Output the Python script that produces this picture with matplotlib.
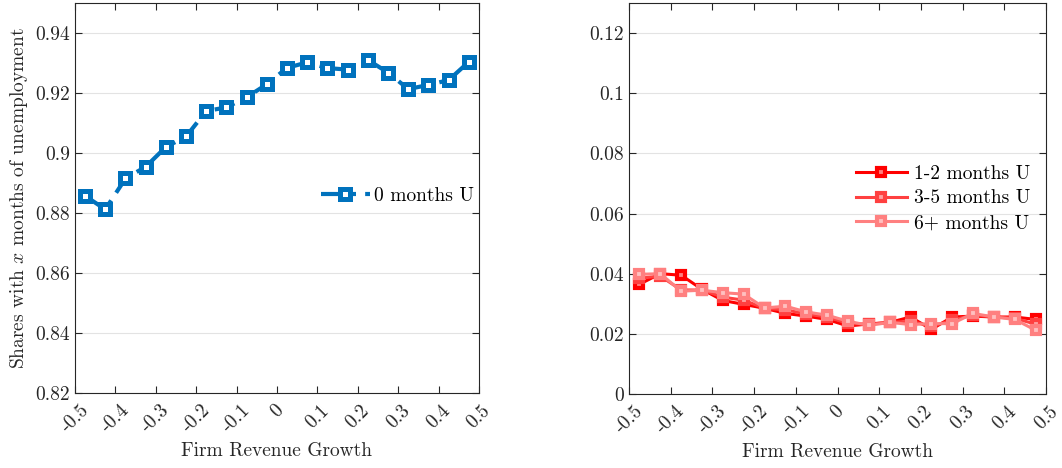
import numpy as np
import matplotlib
matplotlib.use('Agg')
import matplotlib.pyplot as plt

plt.rcParams['font.family'] = ['cmr10', 'DejaVu Serif']
plt.rcParams['mathtext.fontset'] = 'cm'
plt.rcParams['axes.unicode_minus'] = False

# bin centres of firm revenue growth
growth = [-0.475, -0.425, -0.375, -0.325, -0.275, -0.225, -0.175, -0.125, -0.075, -0.025,
          0.025, 0.075, 0.125, 0.175, 0.225, 0.275, 0.325, 0.375, 0.425, 0.475]

share_0m = [0.8857, 0.8812, 0.8915, 0.8954, 0.9020, 0.9055, 0.9140, 0.9152, 0.9186, 0.9229,
            0.9284, 0.9302, 0.9283, 0.9278, 0.9310, 0.9268, 0.9213, 0.9227, 0.9243, 0.9304]

share_1_2m = [0.0365, 0.0400, 0.0395, 0.0348, 0.0311, 0.0298, 0.0285, 0.0268, 0.0259, 0.0248,
              0.0226, 0.0233, 0.0238, 0.0256, 0.0215, 0.0256, 0.0259, 0.0256, 0.0256, 0.0248]
share_3_5m = [0.0385, 0.0392, 0.0346, 0.0346, 0.0322, 0.0312, 0.0285, 0.0280, 0.0266, 0.0256,
              0.0235, 0.0232, 0.0238, 0.0242, 0.0225, 0.0245, 0.0263, 0.0256, 0.0252, 0.0232]
share_6pm = [0.0398, 0.0400, 0.0342, 0.0345, 0.0337, 0.0332, 0.0286, 0.0292, 0.0273, 0.0262,
             0.0242, 0.0228, 0.0238, 0.0231, 0.0234, 0.0234, 0.0268, 0.0256, 0.0248, 0.0212]

xticks = [-0.5, -0.4, -0.3, -0.2, -0.1, 0, 0.1, 0.2, 0.3, 0.4, 0.5]
xticklabels = ['-0.5', '-0.4', '-0.3', '-0.2', '-0.1', '0', '0.1', '0.2', '0.3', '0.4', '0.5']
yticks_left = [0.82, 0.84, 0.86, 0.88, 0.9, 0.92, 0.94]
yticklabels_left = ['0.82', '0.84', '0.86', '0.88', '0.9', '0.92', '0.94']
yticks_right = [0, 0.02, 0.04, 0.06, 0.08, 0.1, 0.12]
yticklabels_right = ['0', '0.02', '0.04', '0.06', '0.08', '0.1', '0.12']


def style_axes(ax, yticks, yticklabels):
    ax.set_xlim(-0.5, 0.5)
    ax.set_xticks(xticks)
    ax.set_xticklabels(xticklabels, rotation=45, ha='center', va='top')
    ax.set_yticks(yticks)
    ax.set_yticklabels(yticklabels)
    ax.tick_params(direction='in', top=True, right=True, labelsize=14,
                   length=5, width=0.8, color='#262626', labelcolor='#262626')
    ax.tick_params(axis='x', pad=6)
    ax.grid(axis='y', color='#e3e3e3', linewidth=0.8)
    ax.set_axisbelow(True)
    for s in ax.spines.values():
        s.set_color('#262626')
        s.set_linewidth(0.8)
    ax.set_xlabel('Firm Revenue Growth', fontsize=14, color='#262626', labelpad=4)


fig = plt.figure(figsize=(10.62, 4.68), dpi=100)
ax1 = fig.add_axes([0.0706, 0.1603, 0.3804, 0.8333])
ax2 = fig.add_axes([0.5923, 0.1581, 0.3927, 0.8355])

ax1.plot(growth, share_0m, color='#0072BD', linewidth=3, dashes=(5, 2.2, 1.2, 2.2),
         marker='s', markersize=6.5, markeredgewidth=3.6, markerfacecolor='white',
         label='0 months U')
ax1.set_ylim(0.82, 0.95)
style_axes(ax1, yticks_left, yticklabels_left)
ax1.set_ylabel('Shares with $x$ months of unemployment', fontsize=14, color='#262626')
ax1.legend(loc='center right', bbox_to_anchor=(1.032, 0.505), frameon=False,
           fontsize=14, handlelength=2.5, handletextpad=0.25)

ax2.plot(growth, share_1_2m, color='#FF0000', linewidth=2.2, marker='s', markersize=6,
         markeredgewidth=3, markerfacecolor='#ff8080', label='1-2 months U')
ax2.plot(growth, share_3_5m, color='#FF4040', linewidth=2.2, marker='s', markersize=6,
         markeredgewidth=3, markerfacecolor='#ffa0a0', label='3-5 months U')
ax2.plot(growth, share_6pm, color='#FF8080', linewidth=2.2, marker='s', markersize=6,
         markeredgewidth=3, markerfacecolor='#ffc0c0', label='6+ months U')
ax2.set_ylim(0, 0.13)
style_axes(ax2, yticks_right, yticklabels_right)
ax2.legend(loc='center right', bbox_to_anchor=(1.005, 0.5), frameon=False,
           fontsize=14, handlelength=2.6, handletextpad=0.4, labelspacing=0.35)

fig.savefig('out.png', dpi=100)
